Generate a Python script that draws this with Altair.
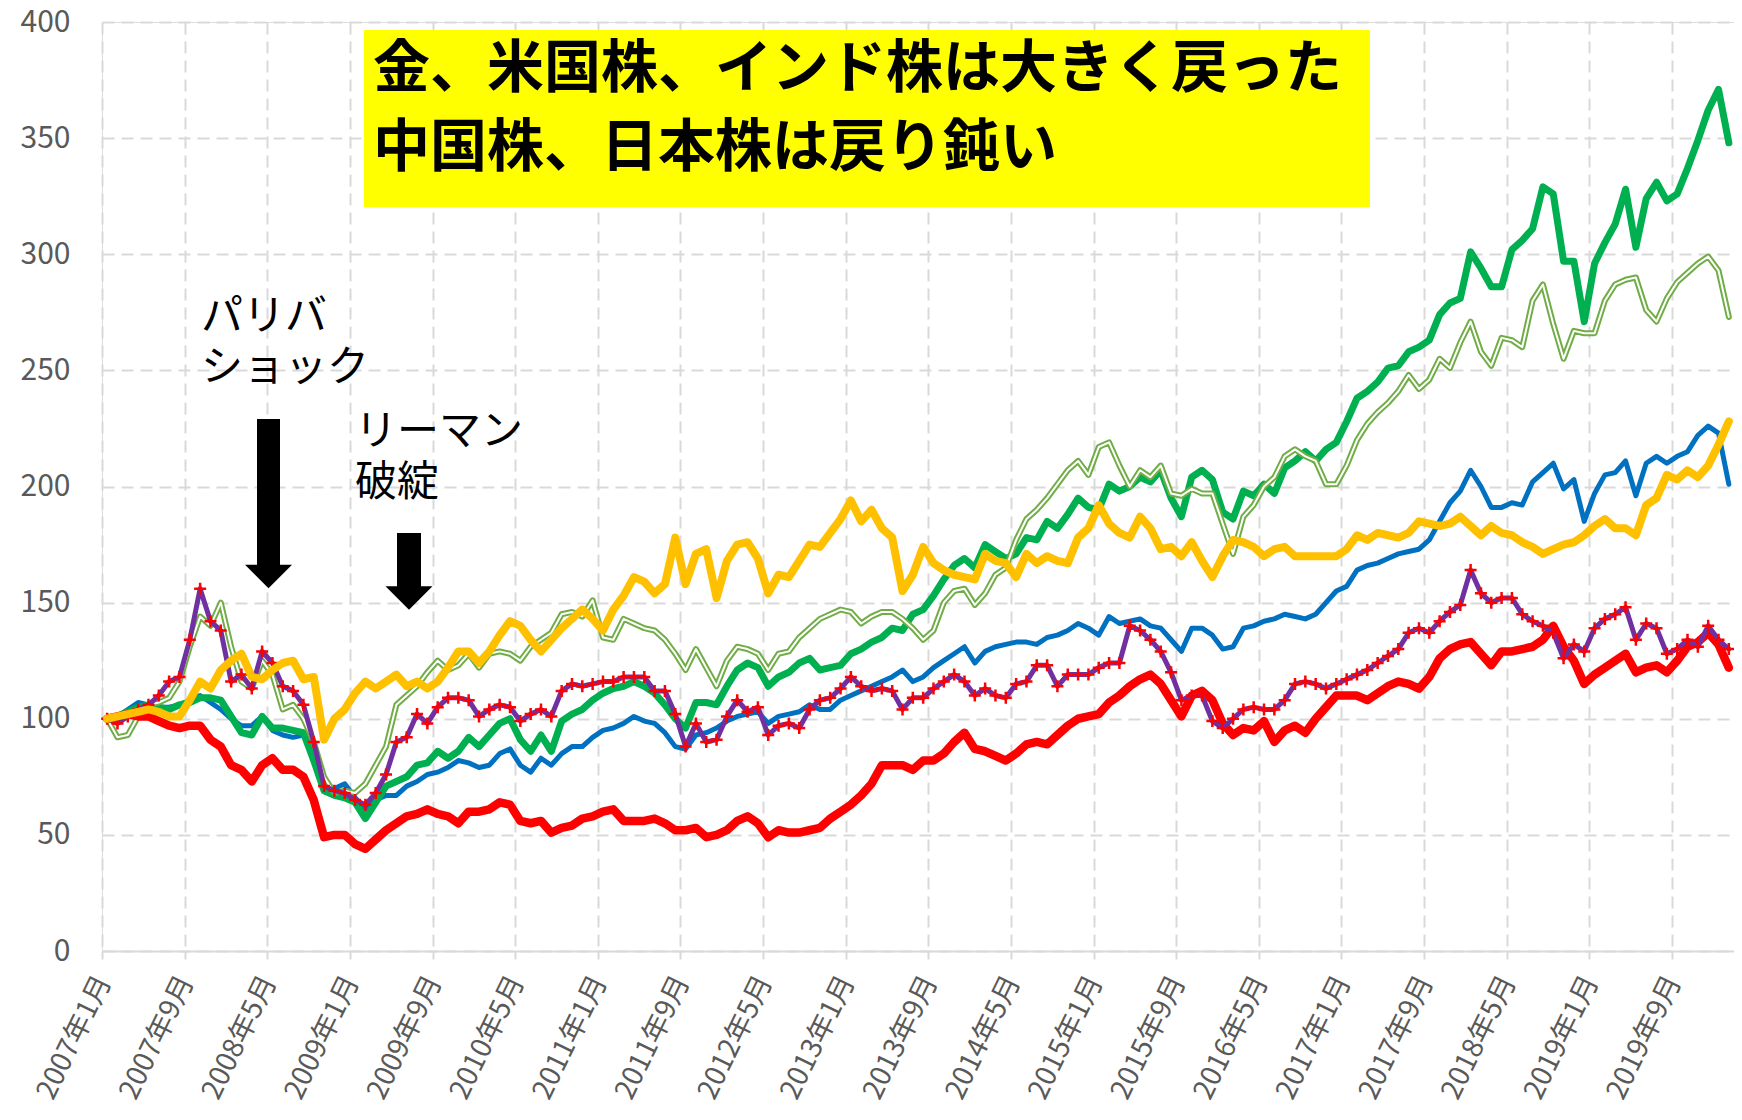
import altair as alt
import pandas as pd

N = 158  # 2007年1月 .. 2020年2月 (monthly)
months = list(range(N))

# ---- series values (index, start = 100) ----
japan_red = [
    100, 101, 102, 101, 101, 99, 97, 96, 97, 97, 91, 88,
    80, 78, 73, 80, 83, 78, 78, 75, 65, 49, 50, 50,
    46, 44, 48, 52, 55, 58, 59, 61, 59, 58, 55, 60,
    60, 61, 64, 63, 56, 55, 56, 51, 53, 54, 57, 58,
    60, 61, 56, 56, 56, 57, 55, 52, 52, 53, 49, 50,
    52, 56, 58, 55, 49, 52, 51, 51, 52, 53, 57, 60,
    63, 67, 72, 80, 80, 80, 78, 82, 82, 85, 90, 94,
    87, 86, 84, 82, 85, 89, 90, 89, 93, 97, 100, 101,
    102, 107, 110, 114, 117, 119, 115, 108, 101, 110, 112, 108,
    98, 93, 96, 95, 99, 90, 95, 97, 94, 100, 105, 110,
    110, 110, 108, 111, 114, 116, 115, 113, 118, 126, 130, 132,
    133, 128, 123, 129, 129, 130, 131, 134, 140, 131, 125, 115,
    119, 122, 125, 128, 120, 122, 123, 120, 125, 131, 133, 137,
    132, 122,
]

china_purple = [
    100, 98, 101, 104, 106, 110, 116, 118, 134, 156, 142, 138,
    116, 119, 113, 129, 124, 114, 112, 106, 90, 71, 69, 68,
    65, 63, 68, 76, 90, 92, 102, 98, 105, 109, 109, 108,
    101, 104, 106, 105, 99, 102, 104, 101, 112, 115, 114, 115,
    116, 116, 118, 118, 118, 112, 112, 102, 88, 98, 90, 91,
    101, 108, 103, 105, 93, 97, 98, 96, 104, 108, 109, 113,
    118, 114, 112, 113, 112, 104, 109, 109, 113, 116, 119, 116,
    110, 113, 110, 109, 115, 116, 123, 123, 114, 119, 119, 119,
    122, 124, 124, 140, 138, 134, 129, 120, 108, 110, 110, 99,
    96, 100, 104, 105, 104, 104, 108, 115, 116, 115, 113, 115,
    117, 119, 121, 124, 127, 130, 137, 139, 137, 142, 146, 149,
    164, 154, 150, 152, 152, 145, 142, 140, 137, 126, 132, 129,
    139, 143, 145, 148, 134, 141, 139, 128, 130, 134, 131, 140,
    134, 130,
]

blue_series = [
    100, 101, 104, 107, 106, 105, 105, 106, 108, 110, 107, 104,
    100, 97, 97, 101, 95, 93, 92, 93, 87, 72, 70, 72,
    66, 61, 65, 67, 67, 71, 73, 76, 77, 79, 82, 81,
    79, 80, 85, 87, 80, 77, 83, 80, 85, 88, 88, 92,
    95, 96, 98, 101, 99, 98, 94, 88, 87, 93, 94, 96,
    99, 101, 102, 103, 98, 101, 102, 103, 106, 104, 104, 108,
    110, 112, 114, 116, 118, 121, 116, 118, 122, 125, 128, 131,
    124, 129, 131, 132, 133, 133, 132, 135, 136, 138, 141, 139,
    136, 144, 141, 142, 143, 140, 139, 134, 129, 139, 139, 136,
    130, 131, 139, 140, 142, 143, 145, 144, 143, 145, 150, 155,
    157, 164, 166, 167, 169, 171, 172, 173, 177, 185, 193, 198,
    207, 200, 191, 191, 193, 192, 202, 206, 210, 199, 203, 185,
    197, 205, 206, 211, 196, 210, 213, 210, 213, 215, 222, 226,
    223, 201,
]

us_green = [
    100, 101, 103, 105, 106, 105, 104, 106, 107, 109, 109, 108,
    101, 94, 93, 101, 96, 96, 95, 94, 82, 69, 67, 66,
    64, 57, 64, 71, 73, 75, 80, 81, 86, 83, 86, 92,
    88, 93, 98, 100, 91, 86, 93, 86, 99, 102, 104, 108,
    111, 113, 114, 116, 114, 111, 106, 100, 96, 107, 107, 106,
    114, 121, 124, 122, 114, 118, 120, 124, 126, 121, 122, 123,
    128, 130, 133, 135, 139, 138, 145, 147, 153, 160, 166, 169,
    165, 175, 172, 169, 171, 178, 177, 185, 182, 188, 195, 191,
    190, 201, 198, 200, 204, 202, 207, 195, 187, 204, 207, 203,
    189, 186, 198, 196, 201, 197, 208, 211, 215, 211, 216, 219,
    228, 238, 241, 245, 251, 252, 258, 260, 263, 274, 279, 281,
    301, 294, 286, 286, 302, 306, 311, 329, 326, 297, 297, 271,
    296, 305, 313, 328, 303, 324, 331, 323, 326, 337, 349, 362,
    371, 348,
]

india_lightgreen = [
    100, 92, 93, 101, 106, 107, 109, 116, 131, 144, 140, 150,
    131, 116, 113, 125, 119, 104, 106, 100, 90, 75, 68, 69,
    68, 72, 80, 88, 106, 110, 114, 120, 125, 121, 123, 128,
    122, 128, 129, 128, 125, 131, 134, 137, 145, 146, 144, 151,
    135, 134, 143, 141, 139, 138, 134, 128, 121, 130, 122, 114,
    125, 131, 130, 128, 121, 128, 129, 135, 139, 143, 145, 147,
    146, 141, 144, 146, 146, 143, 139, 134, 138, 150, 155, 156,
    149, 154, 162, 165, 177, 186, 190, 195, 201, 207, 211, 205,
    217, 219, 209, 200, 207, 204, 209, 197, 196, 199, 197, 197,
    184, 171, 187, 192, 200, 204, 213, 216, 213, 211, 201, 201,
    209, 220, 227, 232, 236, 241, 248, 242, 246, 255, 251, 262,
    271, 258, 252, 264, 263, 260, 280, 287, 270, 255, 267, 266,
    266, 280, 287, 289, 290, 276, 271, 281, 288, 292, 296, 299,
    293, 273,
]

gold_yellow = [
    100, 101, 102, 103, 104, 103, 101, 101, 108, 116, 113, 121,
    125, 128, 118, 117, 121, 124, 125, 117, 118, 91, 100, 104,
    111, 116, 113, 116, 119, 114, 116, 113, 116, 122, 129, 129,
    124, 129, 136, 142, 140, 134, 129, 134, 139, 143, 147, 143,
    138, 147, 153, 161, 159, 154, 158, 178, 158, 171, 173, 152,
    168, 175, 176, 169, 154, 162, 161, 168, 175, 174, 180, 186,
    194, 185, 190, 182, 178, 155, 162, 174, 167, 164, 162, 161,
    160, 171, 168, 167, 161, 171, 167, 170, 168, 167, 178, 182,
    192, 184, 180, 178, 187, 182, 173, 174, 170, 176, 168, 161,
    170, 177, 176, 174, 170, 173, 174, 170, 170, 170, 170, 170,
    173, 179, 177, 180, 179, 178, 180, 185, 184, 183, 184, 187,
    183, 179, 183, 180, 179, 176, 174, 171, 173, 175, 176, 179,
    183, 186, 182, 182, 179, 192, 195, 205, 203, 207, 204, 209,
    218, 228,
]

y_ticks = [0, 50, 100, 150, 200, 250, 300, 350, 400]
x_tick_positions = [-0.5 + 8 * k for k in range(20)]  # 2007年1月, 2007年9月, ... 2019年9月

title_lines = ["金、米国株、インド株は大きく戻った", "中国株、日本株は戻り鈍い"]
note_paribas = ["パリバ", "ショック"]
note_lehman = ["リーマン", "破綻"]

FONT = "Noto Sans CJK JP"
GRID = "#d9d9d9"


def frame(vals):
    return pd.DataFrame({"m": months, "v": vals})


x_enc = alt.X(
    "m:Q",
    scale=alt.Scale(domain=[-0.5, N - 0.5], nice=False, zero=False),
    axis=alt.Axis(
        values=x_tick_positions,
        labelExpr="(floor((datum.value + 0.5) / 12) + 2007) + '年' + ((datum.value + 0.5) % 12 + 1) + '月'",
        title=None,
        grid=True, gridColor=GRID, gridDash=[12, 7], gridWidth=2,
        domain=True, domainColor=GRID, domainWidth=2,
        ticks=True, tickColor=GRID, tickWidth=2, tickSize=8,
        labelAngle=296, labelAlign="right", labelBaseline="middle",
        labelFont=FONT, labelFontSize=28, labelColor="#595959",
        labelPadding=18, labelOffset=2, labelOverlap=False, labelFlush=False,
    ),
)
y_enc = alt.Y(
    "v:Q",
    scale=alt.Scale(domain=[0, 400], nice=False, zero=True),
    axis=alt.Axis(
        values=y_ticks, title=None,
        grid=True, gridColor=GRID, gridDash=[12, 7], gridWidth=2,
        domain=False, ticks=False,
        labelFont=FONT, labelFontSize=30, labelColor="#595959",
        labelPadding=32, labelFlush=False,
    ),
)


def line(vals, color, width):
    return alt.Chart(frame(vals)).mark_line(
        color=color, strokeWidth=width, strokeJoin="round", strokeCap="round"
    ).encode(x=x_enc, y=y_enc)


one = pd.DataFrame({"a": [0]})


def note(lines, x, y, size, lh, weight="normal"):
    return alt.Chart(one).mark_text(
        text=lines, align="left", baseline="top", font=FONT, fontSize=size,
        fontWeight=weight, lineHeight=lh, color="black",
    ).encode(x=alt.value(x), y=alt.value(y))


layers = [
    line(blue_series, "#0070C0", 5),
    line(us_green, "#00B050", 7),
    line(india_lightgreen, "#70AD47", 6),
    line(india_lightgreen, "#FFFFFF", 2),
    line(japan_red, "#FF0000", 8.5),
    line(china_purple, "#7030A0", 5),
    alt.Chart(frame(china_purple)).mark_point(
        shape="M-1,0L1,0M0,-1L0,1", filled=False, color="#FF0000",
        strokeWidth=2.5, size=144, opacity=1,
    ).encode(x=x_enc, y=y_enc),
    line(gold_yellow, "#FFC000", 8),
    # title box
    alt.Chart(one).mark_rect(color="#FFFF00").encode(
        x=alt.value(262), x2=alt.value(1268), y=alt.value(8), y2=alt.value(185)
    ),
    note(title_lines, 271, 20, 57, 79, "bold"),
    # annotations
    note(note_paribas, 99, 275, 42, 51),
    note(note_lehman, 253, 390, 42, 51),
    # arrows: shafts
    alt.Chart(one).mark_rect(color="black").encode(
        x=alt.value(155), x2=alt.value(178), y=alt.value(397), y2=alt.value(544)
    ),
    alt.Chart(one).mark_rect(color="black").encode(
        x=alt.value(295), x2=alt.value(319), y=alt.value(511), y2=alt.value(566)
    ),
    # arrow heads
    alt.Chart(one).mark_point(
        shape="M-1,-0.5L1,-0.5L0,0.5Z", filled=True, color="black", size=2209, opacity=1, strokeWidth=0
    ).encode(x=alt.value(166.5), y=alt.value(554.5)),
    alt.Chart(one).mark_point(
        shape="M-1,-0.5L1,-0.5L0,0.5Z", filled=True, color="black", size=2209, opacity=1, strokeWidth=0
    ).encode(x=alt.value(307), y=alt.value(576)),
]

chart = alt.layer(*layers).properties(
    width=1632,
    height=929,
    autosize=alt.AutoSizeParams(type="none"),
    padding={"left": 94, "top": 14, "right": 0, "bottom": 160},
).configure_view(stroke=None).configure(background="white")

chart.save("out.html", embed_options={"renderer": "svg", "actions": False})
